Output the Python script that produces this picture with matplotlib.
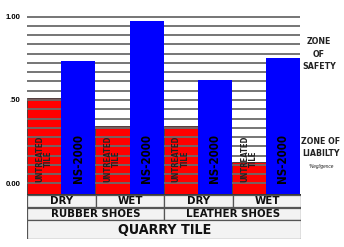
import numpy as np
import matplotlib.pyplot as plt
from matplotlib.patches import Rectangle

# values
surfaces = ['DRY', 'WET', 'DRY', 'WET']
shoes = ['RUBBER SHOES', 'LEATHER SHOES']
floor = 'QUARRY TILE'
untreated = [0.51, 0.344, 0.344, 0.13]
ns2000 = [0.734, 0.974, 0.62, 0.75]
ytick_vals = [0.0, 0.5, 1.0]
ytick_labels = ['0.00', '.50', '1.00']

RED = '#ff0000'
BLUE = '#0000ff'
y0 = -0.064
COND = dict(family='DejaVu Sans', stretch='condensed', fontweight='bold')

plt.rcParams['font.family'] = ['Liberation Sans', 'DejaVu Sans']

fig = plt.figure(figsize=(3.44, 2.47), dpi=100)
W, H = 344, 247


def px_axes(x0, y_top, x1, y_bot):
    # axes placed by pixel box (top-left origin)
    return fig.add_axes([x0 / W, 1 - y_bot / H, (x1 - x0) / W, (y_bot - y_top) / H])


ax = px_axes(27.3, 13.3, 300.0, 194.0)
n = len(untreated)
xr = np.arange(n) * 2
xb = xr + 1

ax.bar(xr, np.array(untreated) - y0, bottom=y0, width=1.0, color=RED,
       edgecolor='#333333', linewidth=0.6, zorder=1, align='center')
for y in np.arange(0, 1.0001, 1 / 18):
    ax.axhline(y, color='#6a6a6a', lw=1.3, zorder=2)
ax.bar(xb, np.array(ns2000) - y0, bottom=y0, width=1.0, color=BLUE,
       linewidth=0, zorder=3, align='center')

for x in xr:
    ax.text(x, 0.15, 'UNTREATED\nTILE', rotation=90, ha='center', va='center',
            fontsize=5.6, color='#222222', linespacing=0.95, zorder=4, **COND)
for x in xb:
    ax.text(x, 0.15, 'NS-2000', rotation=90, ha='center', va='center',
            fontsize=8.3, color='black', zorder=4, **COND)

ax.set_xlim(-0.5, 2 * n - 0.5)
ax.set_ylim(y0, 1.02)
ax.set_yticks(ytick_vals)
ax.set_yticklabels(ytick_labels, fontsize=5.6, fontweight='bold')
ax.tick_params(axis='y', length=0, pad=5)
ax.set_xticks([])
for s in ax.spines.values():
    s.set_visible(False)

# side notes
fig.text(319 / W, 1 - 54 / H, 'ZONE\nOF\nSAFETY', ha='center', va='center',
         fontsize=6.3, color='#222222', linespacing=1.5, **COND)
fig.text(321 / W, 1 - 147.5 / H, 'ZONE OF\nLIABILTY', ha='center', va='center',
         fontsize=6.3, color='#222222', linespacing=1.45, **COND)
fig.text(321 / W, 1 - 166 / H, '*Negligence', ha='center', va='center',
         fontsize=3.4, style='italic', color='#222222')

# category table under the bars
tab = px_axes(27.3, 194.0, 301.5, 239.0)
tab.set_xlim(-0.5, 2 * n - 0.5)
tab.set_ylim(239.0, 194.0)
tab.axis('off')
tab.add_patch(Rectangle((-0.5, 194.0), 2 * n, 45.0, facecolor='#f0f0f0',
                        edgecolor='#333333', lw=1.4))


def cell(xa, xw, ya, yh, label, size):
    tab.add_patch(Rectangle((xa, ya), xw, yh, facecolor='#f3f3f3',
                            edgecolor='#555555', lw=0.9))
    tab.text(xa + xw / 2, ya + yh / 2 + 0.5, label, ha='center', va='center',
             fontsize=size, color='#111111', **COND)


for i, lab in enumerate(surfaces):
    cell(2 * i - 0.5, 2, 194.5, 12.5, lab, 8.2)
for i, lab in enumerate(shoes):
    cell(4 * i - 0.5, 4, 207.5, 12.0, lab, 8.2)
cell(-0.5, 2 * n, 220.0, 18.5, floor, 10.3)

fig.savefig('out.png', dpi=100, facecolor='white')
